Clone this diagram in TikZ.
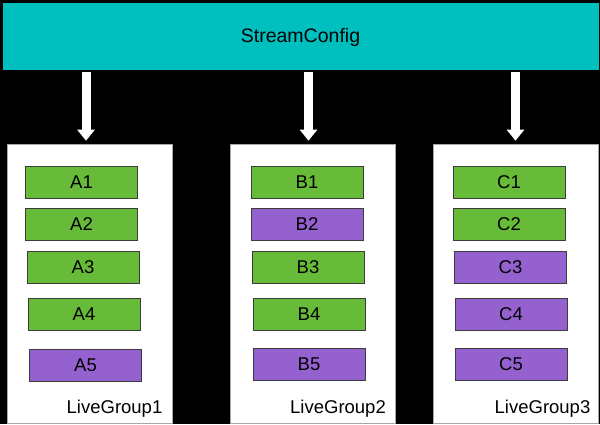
\documentclass[tikz,border=0pt]{standalone}
\usepackage{fontspec}
\setmainfont{Liberation Sans}
\usetikzlibrary{arrows.meta}
\definecolor{teal1}{RGB}{0,191,191}
\definecolor{grn}{RGB}{103,187,57}
\definecolor{prp}{RGB}{148,97,206}
\definecolor{edge}{RGB}{60,60,60}
\tikzset{
  banner/.style={fill=teal1, draw=none, minimum width=596pt, minimum height=67pt, inner sep=0pt, font=\fontsize{19.5}{22}\selectfont},
  panel/.style={fill=white, draw=gray!70, line width=0.6pt, minimum width=165pt, minimum height=279pt, inner sep=0pt},
  item/.style={draw=edge, line width=0.8pt, minimum width=112pt, minimum height=32pt, inner sep=0pt, font=\fontsize{18.5}{21}\selectfont},
  gbox/.style={item, fill=grn},
  pbox/.style={item, fill=prp},
  grouplabel/.style={anchor=base, inner sep=0pt, font=\fontsize{18.5}{21}\selectfont},
  flow/.style={white, line width=9pt, -{Triangle[width=17pt,length=11pt]}, shorten <=2pt, shorten >=3pt}
}
\begin{document}
\begin{tikzpicture}[x=1pt,y=-1pt]
\fill[black] (0,0) rectangle (600,424);
\useasboundingbox (0,0) rectangle (600,424);
\node[banner] (cfg) at (301,36.5) {};
\node[anchor=base, inner sep=0pt, font=\fontsize{19.5}{22}\selectfont] (cfgtext) at (300.5,42) {StreamConfig};
% panels
\node[panel] (P1) at (89.5,283.5) {};
\node[panel] (P2) at (312.5,283.5) {};
\node[panel] (P3) at (515.5,283.5) {};
% arrows
\draw[flow] ([xshift=-3.5pt]cfg.south -| P1.north) -- ([xshift=-3.5pt]P1.north);
\draw[flow] ([xshift=-4pt]cfg.south -| P2.north) -- ([xshift=-4pt]P2.north);
\draw[flow] ([xshift=0pt]cfg.south -| P3.north) -- ([xshift=0pt]P3.north);
% group A
\node[gbox] (A1) at (81.5,182) {A1};
\node[gbox] (A2) at (81.5,224) {A2};
\node[gbox] (A3) at (83,267) {A3};
\node[gbox] (A4) at (84,314) {A4};
\node[pbox] (A5) at (85.5,365) {A5};
% group B
\node[gbox] (B1) at (307,182) {B1};
\node[pbox] (B2) at (307,224) {B2};
\node[gbox] (B3) at (308,267) {B3};
\node[gbox] (B4) at (309,314) {B4};
\node[pbox] (B5) at (309,364) {B5};
% group C
\node[gbox] (C1) at (509,182) {C1};
\node[gbox] (C2) at (509,224) {C2};
\node[pbox] (C3) at (510.5,267) {C3};
\node[pbox] (C4) at (511,314) {C4};
\node[pbox] (C5) at (511,364) {C5};
% labels
\node[grouplabel] (L1) at (114.5,413) {LiveGroup1};
\node[grouplabel] (L2) at (338,413) {LiveGroup2};
\node[grouplabel] (L3) at (542.5,413) {LiveGroup3};
\end{tikzpicture}
\end{document}
